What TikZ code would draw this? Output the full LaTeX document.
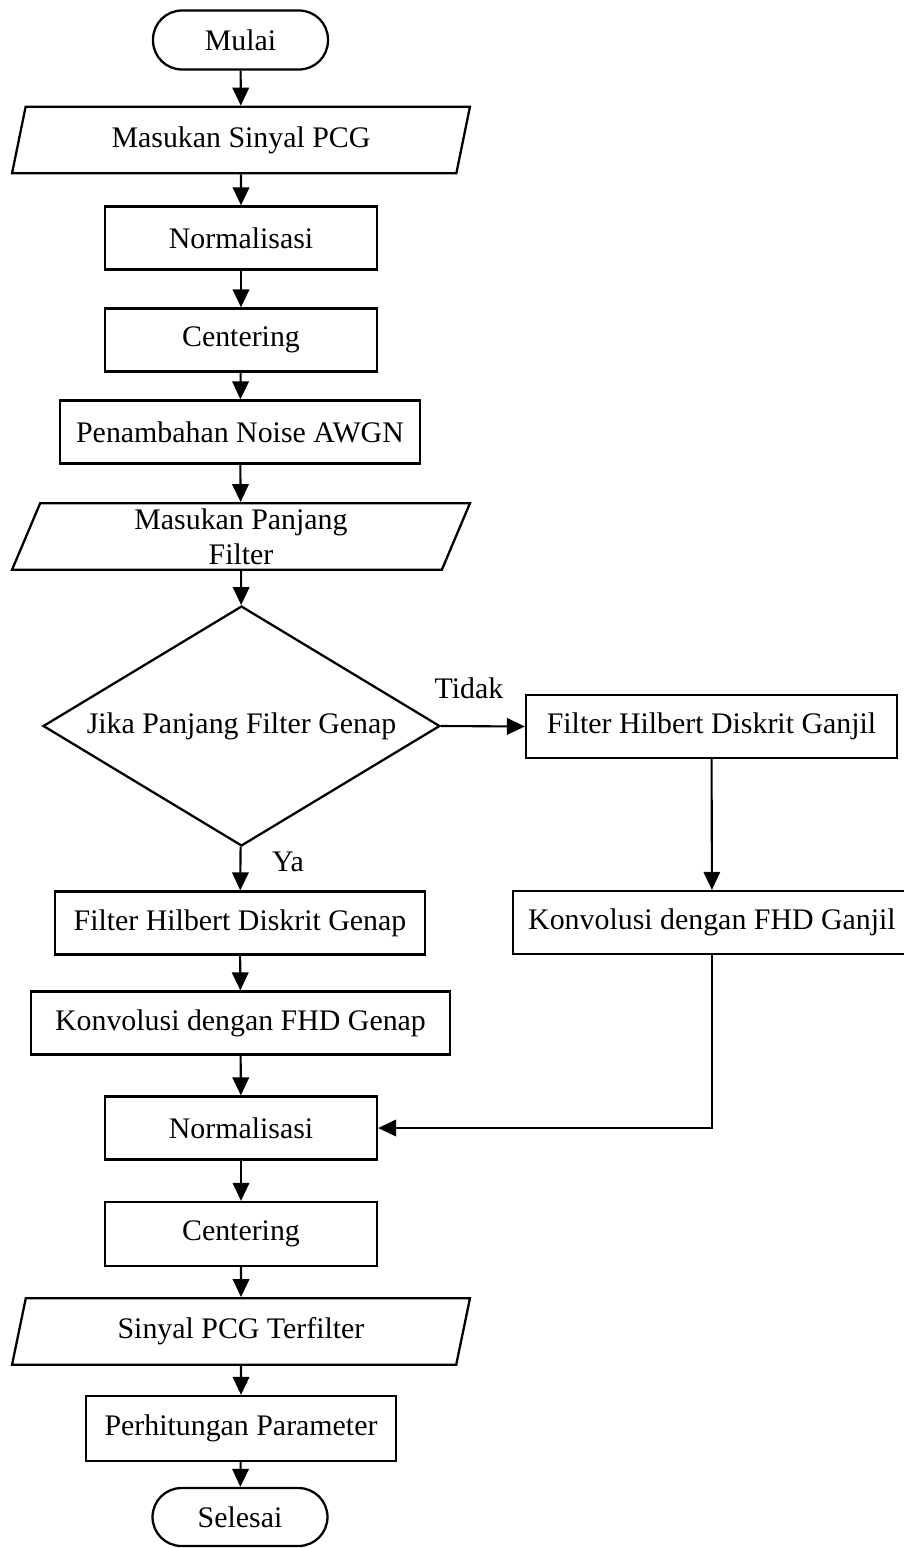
\documentclass[tikz,border=0pt]{standalone}
\usepackage{fontspec}
\setmainfont{Liberation Serif}
\usepackage{tikz}
\usetikzlibrary{shapes,arrows.meta,positioning,calc}
\tikzset{
    flowtext/.style={font=\fontsize{17}{20}\selectfont},
    startstop/.style={rectangle, draw=black, line width=1.3pt, rounded corners=0.58cm, minimum width=3.5cm, minimum height=1.18cm, inner sep=0pt, flowtext},
    process/.style={rectangle, draw=black, line width=1.3pt, minimum width=5.44cm, minimum height=1.26cm, inner sep=0pt, flowtext},
    io/.style={trapezium, trapezium left angle=63.4, trapezium right angle=116.6, trapezium stretches body, draw=black, line width=1.3pt, minimum width=9.16cm, minimum height=1.33cm, inner sep=0pt, align=center, flowtext},
    decision/.style={diamond, aspect=1.65, draw=black, line width=1.3pt, minimum width=7.94cm, minimum height=4.8cm, inner sep=0pt, flowtext},
    flow/.style={line width=1.2pt, -{Triangle[length=0.36cm, width=0.33cm]}},
    branchlabel/.style={flowtext, inner sep=0pt},
}

\begin{document}
\begin{tikzpicture}[x=0.02cm, y=-0.02cm]
    \useasboundingbox (0,0) rectangle (903,1548);

    % main column
    \node[startstop] (mulai) at (240.5, 40) {Mulai};
    \node[io] (inSinyal) at (241, 140) {Masukan Sinyal PCG};
    \node[process] (norm1) at (241, 238) {Normalisasi};
    \node[process] (center1) at (241, 340) {Centering};
    \node[process, minimum width=7.2cm] (noise) at (240, 432) {Penambahan Noise AWGN};
    \node[io] (inPanjang) at (241, 536.5) {Masukan Panjang\\Filter};
    \node[decision] (cekGenap) at (241.5, 726) {Jika Panjang Filter Genap};
    \node[process, minimum width=7.4cm] (fhdGenap) at (240, 923) {Filter Hilbert Diskrit Genap};
    \node[process, minimum width=8.38cm] (konvGenap) at (240.5, 1023) {Konvolusi dengan FHD Genap};
    \node[process] (norm2) at (241, 1128) {Normalisasi};
    \node[process, minimum height=1.28cm] (center2) at (241, 1234) {Centering};
    \node[io] (outSinyal) at (241, 1331.5) {Sinyal PCG Terfilter};
    \node[process, minimum width=6.2cm, minimum height=1.3cm] (param) at (241, 1428.5) {Perhitungan Parameter};
    \node[startstop, minimum height=1.16cm] (selesai) at (240, 1517) {Selesai};

    % odd branch
    \node[process, minimum width=7.42cm] (fhdGanjil) at (711.5, 726.5) {Filter Hilbert Diskrit Ganjil};
    \node[process, minimum width=7.96cm] (konvGanjil) at (712, 922.5) {Konvolusi dengan FHD Ganjil};

    % labels
    \node[branchlabel] (tidak) at (469, 688) {Tidak};
    \node[branchlabel] (ya) at (288, 862) {Ya};

    % arrows
    \draw[flow] (mulai) -- (inSinyal);
    \draw[flow] (inSinyal) -- (norm1);
    \draw[flow] (norm1) -- (center1);
    \draw[flow] (center1) -- (noise);
    \draw[flow] (noise) -- (inPanjang);
    \draw[flow] (inPanjang) -- (cekGenap);
    \draw[flow] (cekGenap) -- (fhdGenap);
    \draw[flow] (cekGenap.east) -- (fhdGanjil.west);
    \draw[flow] (fhdGenap) -- (konvGenap);
    \draw[flow] (konvGenap) -- (norm2);
    \draw[flow] (fhdGanjil) -- (konvGanjil);
    \draw[flow] (konvGanjil.south) |- (norm2.east);
    \draw[flow] (norm2) -- (center2);
    \draw[flow] (center2) -- (outSinyal);
    \draw[flow] (outSinyal) -- (param);
    \draw[flow] (param) -- (selesai);
\end{tikzpicture}
\end{document}
